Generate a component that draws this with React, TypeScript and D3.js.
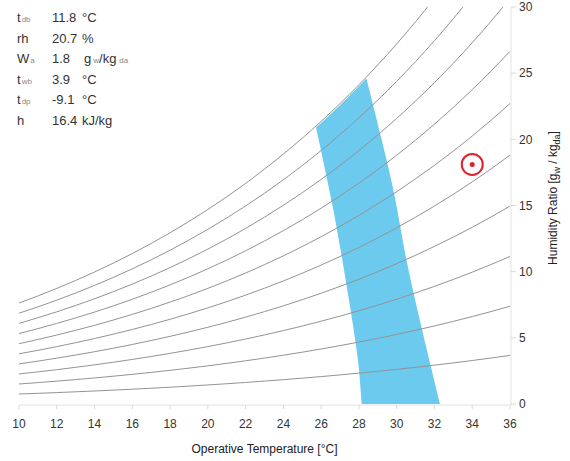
import React from 'react';
import * as d3 from 'd3';

// saturation vapour pressure table [kPa] at 1 degC steps (10..36)
const tempSteps = [10, 11, 12, 13, 14, 15, 16, 17, 18, 19, 20, 21, 22, 23, 24, 25, 26, 27, 28, 29, 30, 31, 32, 33, 34, 35, 36];
const satPressure = [
    1.2282, 1.313, 1.4028, 1.4981, 1.599, 1.7058, 1.8188, 1.9384, 2.0647, 2.1983, 2.3393, 2.4882, 2.6453, 2.8111,
    2.9858, 3.1699, 3.3639, 3.5681, 3.7831, 4.0092, 4.247, 4.4969, 4.7596, 5.0354, 5.3251, 5.629, 5.9479,
];
const rhLevels = [0.1, 0.2, 0.3, 0.4, 0.5, 0.6, 0.7, 0.8, 0.9, 1.0];
const atmPressure = 101.325;

// comfort zone outline, [temp, humidity ratio g/kg]
const zoneTop = [[25.73, 20.9], [26.5, 21.9], [27.5, 23.3], [28.4, 24.6]];
const zoneRight = [[28.4, 24.6], [29.2, 20.0], [29.85, 16.0], [30.5, 11.0], [31.2, 6.5], [32.3, 0]];
const zoneLeft = [[28.15, 0], [27.95, 3.3], [27.4, 8.5], [26.6, 15.0], [25.73, 20.9]];

const point = { t: 34, w: 18.1 };

const xTicks = [10, 12, 14, 16, 18, 20, 22, 24, 26, 28, 30, 32, 34, 36];
const yTicks = [0, 5, 10, 15, 20, 25, 30];

const readout = [
    { sym: 't', sub: 'db', val: '11.8', unit: '°C' },
    { sym: 'rh', sub: '', val: '20.7', unit: '%' },
    { sym: 'W', sub: 'a', val: '1.8', unit: 'g_w' },
    { sym: 't', sub: 'wb', val: '3.9', unit: '°C' },
    { sym: 't', sub: 'dp', val: '-9.1', unit: '°C' },
    { sym: 'h', sub: '', val: '16.4', unit: 'kJ/kg' },
];

const FONT = 'Liberation Sans, Arial, sans-serif';

export default function App() {
    const x = d3.scaleLinear().domain([10, 36]).range([19, 510]);
    const y = d3.scaleLinear().domain([0, 30]).range([404, 7]);

    const line = d3
        .line<[number, number]>()
        .x((d) => x(d[0]))
        .y((d) => y(d[1]))
        .curve(d3.curveMonotoneX);

    const curves = rhLevels.map((rh) =>
        tempSteps.map((t, i) => {
            const pw = rh * satPressure[i];
            return [t, (622 * pw) / (atmPressure - pw)] as [number, number];
        })
    );

    const edge = (curve: d3.CurveFactory) =>
        d3
            .line<number[]>()
            .x((d) => x(d[0]))
            .y((d) => y(d[1]))
            .curve(curve);
    const topPath = edge(d3.curveCatmullRom)(zoneTop) || '';
    const rightPath = (edge(d3.curveCatmullRom)(zoneRight) || '').replace(/^M/, 'L');
    const leftPath = (edge(d3.curveCatmullRom)(zoneLeft) || '').replace(/^M/, 'L');
    const zonePath = topPath + rightPath + leftPath + 'Z';

    const [x0, x1] = x.range();
    const [yb, yt] = y.range();

    return (
        <svg width={570} height={461} style={{ position: 'absolute', left: 0, top: 0 }} fontFamily={FONT}>
            <defs>
                <clipPath id="plot">
                    <rect x={x0} y={yt} width={x1 - x0} height={yb - yt} />
                </clipPath>
            </defs>
            <path d={zonePath} fill="#6ccaee" />
            <g clipPath="url(#plot)">
                {curves.map((c, i) => (
                    <path key={i} d={line(c) || ''} fill="none" stroke="#939393" strokeWidth={1} />
                ))}
            </g>

            {/* bottom axis */}
            <line x1={x0} x2={x1} y1={yb + 1} y2={yb + 1} stroke="#e2e2e2" />
            {xTicks.map((t) => (
                <g key={t} transform={`translate(${x(t)},${yb + 1})`}>
                    <line y2={4} stroke="#d8d8d8" />
                    <text y={23} textAnchor="middle" fontSize={12} fill="#333">
                        {t}
                    </text>
                </g>
            ))}
            <text x={(x0 + x1) / 2} y={453} textAnchor="middle" fontSize={12} fill="#222">
                Operative Temperature [°C]
            </text>

            {/* right axis */}
            <line x1={x1 + 1} x2={x1 + 1} y1={yt} y2={yb + 1} stroke="#e2e2e2" />
            {yTicks.map((t) => (
                <g key={t} transform={`translate(${x1 + 1},${y(t)})`}>
                    <line x2={5} stroke="#d8d8d8" />
                    <text x={8} dy="0.35em" fontSize={12} fill="#333">
                        {t}
                    </text>
                </g>
            ))}
            <text transform="translate(557,198) rotate(-90)" textAnchor="middle" fontSize={12} fill="#222">
                Humidity Ratio [g
                <tspan fontSize={9} dy={3}>w</tspan>
                <tspan dy={-3}> / kg</tspan>
                <tspan fontSize={9} dy={3}>da</tspan>
                <tspan dy={-3}>]</tspan>
            </text>

            {/* current state marker */}
            <circle cx={x(point.t)} cy={y(point.w)} r={10.5} fill="none" stroke="#e0202a" strokeWidth={2} />
            <circle cx={x(point.t)} cy={y(point.w)} r={2.5} fill="#e0202a" />

            {/* readout */}
            {readout.map((r, i) => {
                const by = 22 + i * 20.6;
                return (
                    <g key={i} fontSize={13} fill="#333">
                        <text x={17} y={by}>
                            {r.sym}
                            {r.sub && (
                                <tspan fontSize={8} fill="#888" dx={1}>
                                    {r.sub}
                                </tspan>
                            )}
                        </text>
                        <text x={52} y={by}>
                            {r.val}
                        </text>
                        {r.unit === 'g_w' ? (
                            <text x={84} y={by}>
                                g
                                <tspan fontSize={8} fill="#888" dx={2}>w</tspan>
                                <tspan>/kg</tspan>
                                <tspan fontSize={8} fill="#888" dx={3}>da</tspan>
                            </text>
                        ) : (
                            <text x={82} y={by}>
                                {r.unit}
                            </text>
                        )}
                    </g>
                );
            })}
        </svg>
    );
}
